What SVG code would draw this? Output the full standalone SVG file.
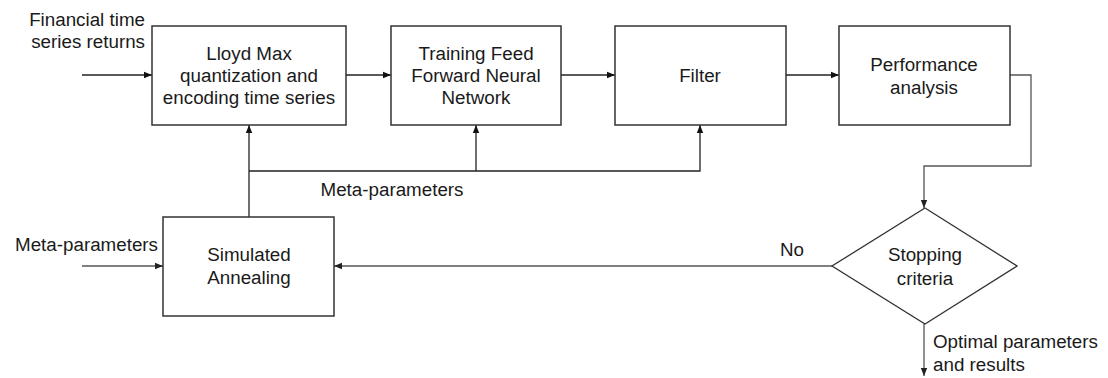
<svg xmlns="http://www.w3.org/2000/svg" width="1108" height="378" viewBox="0 0 1108 378">
<defs>
<marker id="ah" viewBox="0 0 8 8" refX="8" refY="4" markerWidth="8" markerHeight="8" markerUnits="userSpaceOnUse" orient="auto">
<path d="M0,0.8 L8,4 L0,7.2 Z" fill="#111"/>
</marker>
<marker id="ahg" viewBox="0 0 8 8" refX="8" refY="4" markerWidth="8" markerHeight="8" markerUnits="userSpaceOnUse" orient="auto">
<path d="M0,0.8 L8,4 L0,7.2 Z" fill="#222"/>
</marker>
</defs>
<style>
text{font-family:"Liberation Sans",Arial,sans-serif;font-size:18.8px;fill:#1a1a1a}
.c{text-anchor:middle}
.box{fill:#fff;stroke:#333;stroke-width:1.5}
.ln{fill:none;stroke:#222;stroke-width:1.3}
.lg{fill:none;stroke:#555;stroke-width:1.3}
</style>
<rect width="1108" height="378" fill="#fff"/>
<g id="connectors">
<path class="ln" d="M82,75 H152" marker-end="url(#ah)"/>
<path class="ln" d="M346,75 H391" marker-end="url(#ah)"/>
<path class="ln" d="M561,75 H615" marker-end="url(#ah)"/>
<path class="ln" d="M786,75 H839" marker-end="url(#ah)"/>
<path class="lg" d="M1010,75 H1031 V166 H924 V208" marker-end="url(#ahg)"/>
<path class="ln" d="M249,217 V125" marker-end="url(#ah)"/>
<path class="ln" d="M249,171 H700 V125" marker-end="url(#ah)"/>
<path class="ln" d="M476,171 V125" marker-end="url(#ah)"/>
<path class="lg" d="M82,266 H163" marker-end="url(#ahg)"/>
<path class="lg" d="M832,266 H334" marker-end="url(#ahg)"/>
<path class="lg" d="M924,324 V376" marker-end="url(#ahg)"/>
</g>
<g id="labels">
<text x="145" y="26" text-anchor="end">Financial time</text>
<text x="145" y="48" text-anchor="end">series returns</text>
<text x="158" y="251" text-anchor="end">Meta-parameters</text>
<text x="392" y="196" class="c">Meta-parameters</text>
<text x="792" y="256" class="c">No</text>
<text x="933" y="348">Optimal parameters</text>
<text x="933" y="371">and results</text>
</g>
<g id="lloyd">
<rect class="box" x="152" y="26" width="194" height="99"/>
<text x="249" y="60" class="c">Lloyd Max</text>
<text x="249" y="82" class="c">quantization and</text>
<text x="249" y="104" class="c">encoding time series</text>
</g>
<g id="ffnn">
<rect class="box" x="391" y="26" width="170" height="99"/>
<text x="476" y="60" class="c">Training Feed</text>
<text x="476" y="82" class="c">Forward Neural</text>
<text x="476" y="104" class="c">Network</text>
</g>
<g id="filter">
<rect class="box" x="615" y="26" width="171" height="99"/>
<text x="700" y="82" class="c">Filter</text>
</g>
<g id="perf">
<rect class="box" x="839" y="26" width="171" height="99"/>
<text x="924" y="71" class="c">Performance</text>
<text x="924" y="94" class="c">analysis</text>
</g>
<g id="annealing">
<rect class="box" x="163" y="217" width="171" height="99"/>
<text x="249" y="261" class="c">Simulated</text>
<text x="249" y="284" class="c">Annealing</text>
</g>
<g id="stopping">
<polygon class="box" points="925,208 1017,266 925,324 832,266" style="stroke-width:1.3"/>
<text x="925" y="261" class="c">Stopping</text>
<text x="925" y="285" class="c">criteria</text>
</g>
</svg>
